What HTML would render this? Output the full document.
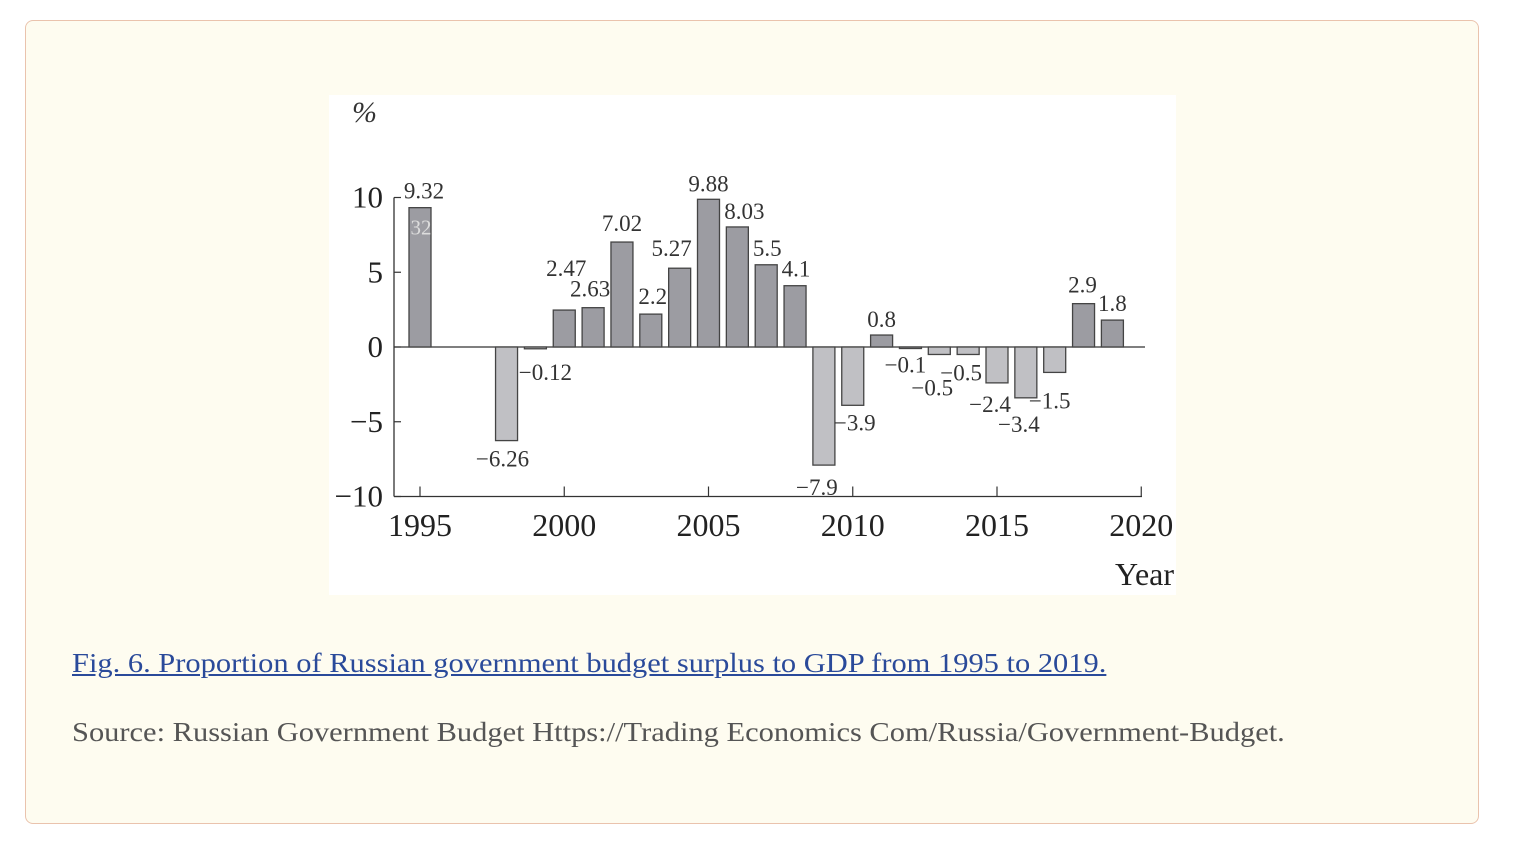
<!DOCTYPE html>
<html><head><meta charset="utf-8"><style>
body{margin:0;width:1526px;height:848px;background:#fff;font-family:"Liberation Serif",serif;position:relative;overflow:hidden}
.card{position:absolute;left:25px;top:20px;width:1454px;height:804px;border:1.5px solid #eac3ad;border-radius:8px;background:#fefcf0;box-sizing:border-box}
.cap{position:absolute;left:72px;top:648px;font-size:27px;color:#2a4a9a;text-decoration:underline;white-space:nowrap;transform:scaleX(1.128);transform-origin:0 0}
.src{position:absolute;left:72px;top:717px;font-size:27px;color:#555;white-space:nowrap;transform:scaleX(1.128);transform-origin:0 0}
svg{position:absolute;left:0;top:0}
</style></head><body>
<div class="card"></div>
<svg width="1526" height="848" font-family="Liberation Serif, serif">
<rect x="329" y="95" width="847" height="500" fill="#fff"/>
<g id="g"></g>
</svg>
<div class="cap">Fig. 6. Proportion of Russian government budget surplus to GDP from 1995 to 2019.</div>
<div class="src">Source: Russian Government Budget Https://Trading Economics Com/Russia/Government-Budget.</div>
<script>
const years=[1995,1998,1999,2000,2001,2002,2003,2004,2005,2006,2007,2008,2009,2010,2011,2012,2013,2014,2015,2016,2017,2018,2019];
const values=[9.32,-6.26,-0.12,2.47,2.63,7.02,2.2,5.27,9.88,8.03,5.5,4.1,-7.9,-3.9,0.8,-0.1,-0.5,-0.5,-2.4,-3.4,-1.7,2.9,1.8];
const labels=["9.32","\u22126.26","\u22120.12","2.47","2.63","7.02","2.2","5.27","9.88","8.03","5.5","4.1","\u22127.9","\u22123.9","0.8","\u22120.1","\u22120.5","\u22120.5","\u22122.4","\u22123.4","\u22121.5","2.9","1.8"];
const yTicks=[10,5,0,-5,-10];
const xTicks=[1995,2000,2005,2010,2015,2020];
// layout: label offsets relative to bar end (pixels)
const labelDx=[4,-4,10,2,-3,0,2,-8,0,7,1,1,-7,2,0,-5,-7,-7,-7,-7,-5,-1,0];
const labelDy=[-9,26,31,-34,-11,-11,-10,-12,-8,-8,-9,-9,30,25,-8,24,41,26,29,34,36,-11,-9];
const NS="http://www.w3.org/2000/svg";
const g=document.getElementById('g');
const X=y=>420+(y-1995)*28.85;
const Y=v=>347-v*14.95;
function mk(t,a,txt){const e=document.createElementNS(NS,t);for(const k in a)e.setAttribute(k,a[k]);if(txt!=null)e.textContent=txt;g.appendChild(e);return e;}
let e;
e=mk('line',{x1:394,y1:Y(10),x2:394,y2:Y(-10),stroke:'#333','stroke-width':1.3});

e=mk('line',{x1:394,y1:Y(-10),x2:1142,y2:Y(-10),stroke:'#333','stroke-width':1.3});

e=mk('line',{x1:394,y1:Y(0),x2:1145,y2:Y(0),stroke:'#333','stroke-width':1.3});

yTicks.forEach(v=>{
 e=mk('line',{x1:394,y1:Y(v),x2:401,y2:Y(v),stroke:'#333','stroke-width':1.2});
 
 e=mk('text',{x:383,y:Y(v)+10,'text-anchor':'end','font-size':31,fill:'#222'},String(v).replace('-','\u2212'));
 
});
xTicks.forEach(t=>{
 e=mk('line',{x1:X(t),y1:Y(-10),x2:X(t),y2:Y(-10)-10,stroke:'#333','stroke-width':1.2});
 
 e=mk('text',{x:X(t),y:536,'text-anchor':'middle','font-size':32,fill:'#222'},t);
 
});
e=mk('text',{x:352,y:122,'font-size':30,fill:'#333','font-style':'italic'},'%');

e=mk('text',{x:1174,y:585,'text-anchor':'end','font-size':32,fill:'#222'},'Year');

years.forEach((yr,i)=>{
 const v=values[i],cx=X(yr),w=22;
 const top=Math.min(Y(v),Y(0)),h=Math.max(1.5,Math.abs(Y(v)-Y(0)));
 e=mk('rect',{x:cx-w/2,y:top,width:w,height:h,fill:v>=0?'#9c9ca2':'#c0c0c4',stroke:'#444','stroke-width':1.3});
 
 e=mk('text',{x:cx+labelDx[i],y:Y(v)+labelDy[i],'text-anchor':'middle','font-size':23,fill:'#333'},labels[i]);
 
});
e=mk('text',{x:X(1995)+1,y:Y(values[0])+27,'text-anchor':'middle','font-size':21,fill:'#ddd'},'32');

</script>
</body></html>
